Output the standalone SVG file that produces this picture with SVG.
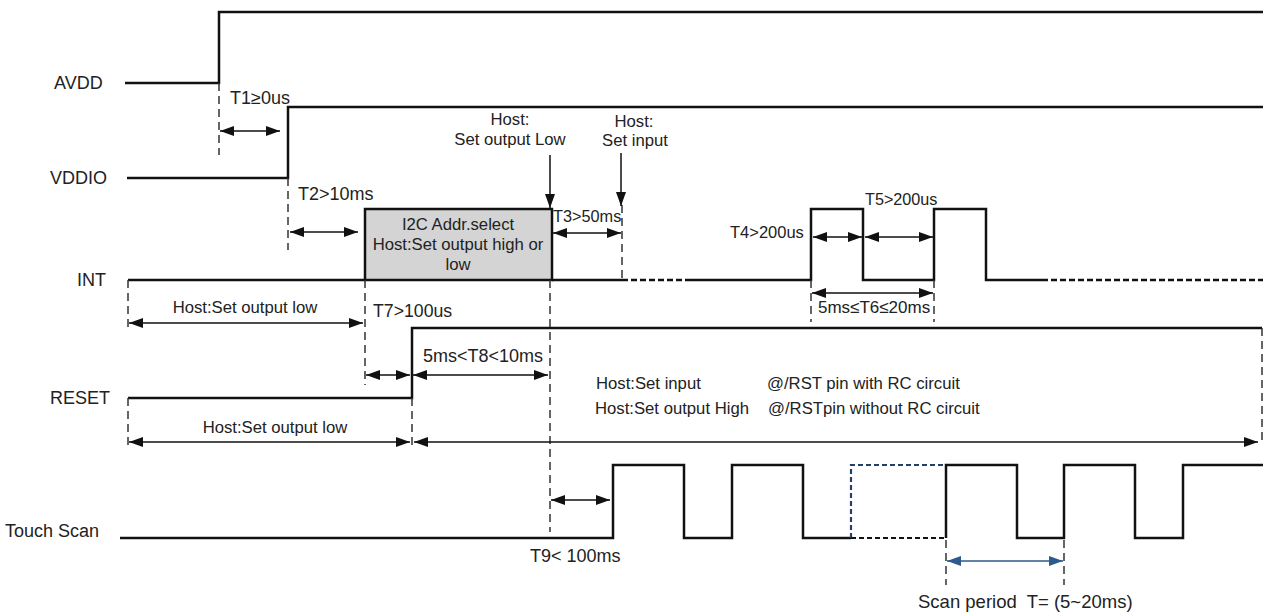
<svg xmlns="http://www.w3.org/2000/svg" width="1263" height="612" viewBox="0 0 1263 612">
<style>
text{font-family:"Liberation Sans",Arial,sans-serif;font-size:16.7px;fill:#222}
.lbl{font-size:18px}
.sig{fill:none;stroke:#111;stroke-width:2.5}
.sigd{fill:none;stroke:#111;stroke-width:2.5;stroke-dasharray:6 3}
.vd{fill:none;stroke:#333;stroke-width:1.5;stroke-dasharray:8 5}
.arr{fill:none;stroke:#111;stroke-width:1.5;marker-start:url(#ah);marker-end:url(#ah)}
.arr1{fill:none;stroke:#111;stroke-width:1.5;marker-end:url(#ah)}
.blue{fill:none;stroke:#2d5a8c;stroke-width:1.5;marker-start:url(#ahb);marker-end:url(#ahb)}
.c{text-anchor:middle}
</style>
<defs>
<marker id="ah" viewBox="0 0 14 10" refX="14" refY="5" markerWidth="14" markerHeight="10" markerUnits="userSpaceOnUse" orient="auto-start-reverse"><path d="M0,0 L14,5 L0,10 z" fill="#111"/></marker>
<marker id="ahb" viewBox="0 0 14 10" refX="14" refY="5" markerWidth="14" markerHeight="10" markerUnits="userSpaceOnUse" orient="auto-start-reverse"><path d="M0,0 L14,5 L0,10 z" fill="#2d5a8c"/></marker>
</defs>
<rect width="1263" height="612" fill="#fff"/>

<g id="labels">
<text class="lbl" x="54" y="89">AVDD</text>
<text class="lbl" x="50" y="184">VDDIO</text>
<text class="lbl" x="77" y="286">INT</text>
<text class="lbl" x="50" y="404">RESET</text>
<text class="lbl" x="5" y="537">Touch Scan</text>
</g>

<g id="avdd">
<path class="sig" d="M125,83 H219 V12 H1263"/>
</g>
<g id="vddio">
<path class="sig" d="M127,178 H288 V107 H1263"/>
</g>
<g id="int">
<path class="sig" d="M128,280 H365 M552,280 H622 M690,280 H811 V209 H863 V280 H934 V209 H986 V280 H1042"/>
<path class="sigd" d="M622,280 H690 M1042,280 H1263"/>
</g>
<g id="i2c-box">
<rect x="365" y="209" width="187" height="71" fill="#d4d4d4" stroke="#111" stroke-width="2.5"/>
<text class="c" x="458" y="230">I2C Addr.select</text>
<text class="c" x="458" y="250">Host:Set output high or</text>
<text class="c" x="458" y="270">low</text>
</g>
<g id="reset">
<path class="sig" d="M128,398 H412 V328 H1262"/>
</g>
<g id="touch-scan">
<path class="sig" d="M120,538 H613 V465 H684 V538 H732 V465 H803 V538 H851 M946,538 V465 H1017 V538 H1064 V465 H1135 V538 H1183 V465 H1263"/>
<path fill="none" stroke="#23406b" stroke-width="2.2" stroke-dasharray="5 3" d="M851,538 V465 H946"/>
<path fill="none" stroke="#111" stroke-width="2.2" stroke-dasharray="5 3" d="M851,538 H946"/>
</g>

<g id="connectors">
<path class="vd" d="M219,83 V155"/>
<path class="vd" d="M288,178 V250"/>
<path class="vd" d="M365,280 V385"/>
<path class="vd" d="M128,280 V330"/>
<path class="vd" d="M128,398 V450"/>
<path class="vd" d="M412,398 V450"/>
<path class="vd" d="M550,280 V532"/>
<path class="vd" d="M622,205 V280"/>
<path class="vd" d="M811,280 V322"/>
<path class="vd" d="M934,280 V322"/>
<path class="vd" d="M1262,328 V442"/>
<path class="vd" d="M946,540 V585"/>
<path class="vd" d="M1064,540 V585"/>

<path class="arr" d="M220,131 H280"/>
<path class="arr" d="M290,232 H358"/>
<path class="arr" d="M553,233 H621"/>
<path class="arr1" d="M550,155 V208"/>
<path class="arr1" d="M621,153 V206"/>
<path class="arr" d="M813,237 H862"/>
<path class="arr" d="M865,237 H933"/>
<path class="arr" d="M812,293 H933"/>
<path class="arr" d="M129,323 H363"/>
<path class="arr" d="M366,375 H410"/>
<path class="arr" d="M413,375 H548"/>
<path class="arr" d="M129,442 H410"/>
<path class="arr" d="M414,442 H1258"/>
<path class="arr" d="M551,500 H610"/>
<path class="blue" d="M947,561 H1063"/>
</g>

<g id="annotations">
<text x="230" y="104" style="font-size:18px">T1≥0us</text>
<text x="298" y="200" style="font-size:18px">T2&gt;10ms</text>
<text class="c" x="510" y="125">Host:</text>
<text class="c" x="510" y="145">Set output Low</text>
<text class="c" x="634" y="127">Host:</text>
<text class="c" x="635" y="146">Set input</text>
<text x="553" y="222" style="font-size:16.3px">T3&gt;50ms</text>
<text x="730" y="238" style="font-size:16.5px">T4&gt;200us</text>
<text x="865" y="205" style="font-size:16.2px">T5&gt;200us</text>
<text x="818" y="313" style="font-size:17px">5ms≤T6≤20ms</text>
<text class="c" x="245" y="313">Host:Set output low</text>
<text x="373" y="317" style="font-size:17.7px">T7&gt;100us</text>
<text x="423" y="362" style="font-size:18px">5ms&lt;T8&lt;10ms</text>
<text x="596" y="389">Host:Set input</text>
<text x="767" y="389">@/RST pin with RC circuit</text>
<text x="595" y="414">Host:Set output High</text>
<text x="768" y="414">@/RSTpin without RC circuit</text>
<text class="c" x="275" y="433">Host:Set output low</text>
<text x="530" y="562" style="font-size:18px">T9&lt; 100ms</text>
<text x="918" y="608" style="font-size:18.5px" xml:space="preserve">Scan period  T= (5~20ms)</text>
</g>
</svg>
